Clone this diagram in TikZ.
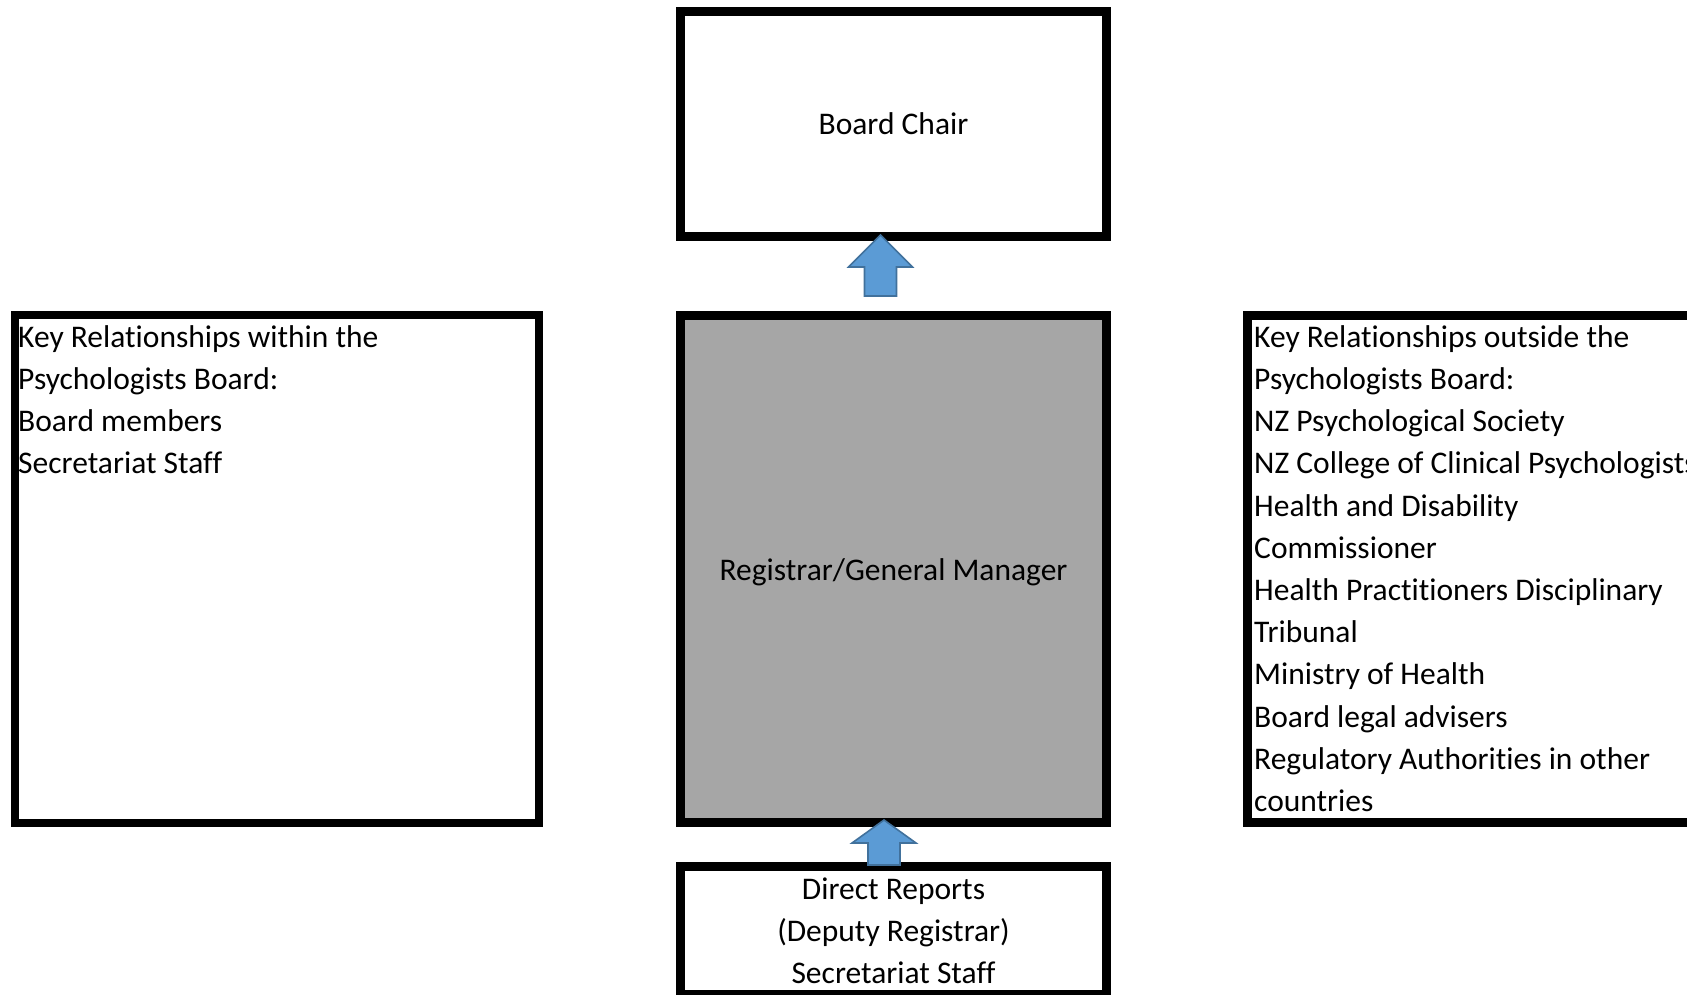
\documentclass[tikz,border=0pt]{standalone}
\usepackage{fontspec}
\setmainfont{Carlito}[Ligatures={NoCommon,NoContextual}, RawFeature={-liga;-clig}]
\definecolor{boxgray}{HTML}{A6A6A6}
\definecolor{arrowfill}{HTML}{5B9BD5}
\definecolor{arrowline}{HTML}{41719C}
\tikzset{
  boxframe/.style={draw=black, line width=9pt, rectangle, inner sep=0pt, outer sep=0pt},
  boxtext/.style={inner sep=0pt, font=\fontsize{31.5}{42.2}\selectfont},
  blockarrow/.style={fill=arrowfill, draw=arrowline, line width=1.6pt, line join=miter},
}
\begin{document}
\begin{tikzpicture}[x=1pt, y=-1pt]
\useasboundingbox (0,0) rectangle (1687,994);
% boxes
\node[boxframe, minimum width=426pt, minimum height=225pt] (chair) at (893.5,124) {};
\node[boxframe, fill=boxgray, minimum width=426pt, minimum height=507pt] (reg) at (893.5,569) {};
\node[boxframe, line width=8pt, minimum width=524pt, minimum height=508pt] (within) at (277,569) {};
\node[boxframe, minimum width=482.5pt, minimum height=507pt] (outside) at (1488.75,569) {};
\node[boxframe, minimum width=426pt, minimum height=128pt] (direct) at (893.5,930.5) {};
% texts
\node[boxtext, anchor=base] (chairtxt) at (893.5,134) {Board Chair};
\node[boxtext, anchor=base] (regtxt) at (893.5,580) {Registrar/General Manager};
\node[boxtext, anchor=north west, align=left] (withintxt) at (18,322)
  {\rule{0pt}{25pt}Key Relationships within the\\Psychologists Board:\\Board members\\Secretariat Staff};
\node[boxtext, anchor=north west, align=left] (outsidetxt) at (1254,322)
  {\rule{0pt}{25pt}Key Relationships outside the\\Psychologists Board:\\NZ Psychological Society\\NZ College of Clinical Psychologists\\Health and Disability\\Commissioner\\Health Practitioners Disciplinary\\Tribunal\\Ministry of Health\\Board legal advisers\\Regulatory Authorities in other\\countries};
\node[boxtext, anchor=north, align=center] (directtxt) at (893.5,874)
  {\rule{0pt}{25pt}Direct Reports\\(Deputy Registrar)\\Secretariat Staff};
% block arrows
\coordinate (a1tip) at (880.5,235);
\draw[blockarrow] (a1tip) -- (912.5,267) -- (896.5,267) -- (896.5,296) -- (864.5,296) -- (864.5,267) -- (848.5,267) -- cycle;
\coordinate (a2tip) at (884,820);
\draw[blockarrow] (a2tip) -- (916,843) -- (900,843) -- (900,865) -- (868,865) -- (868,843) -- (852,843) -- cycle;
\end{tikzpicture}
\end{document}
